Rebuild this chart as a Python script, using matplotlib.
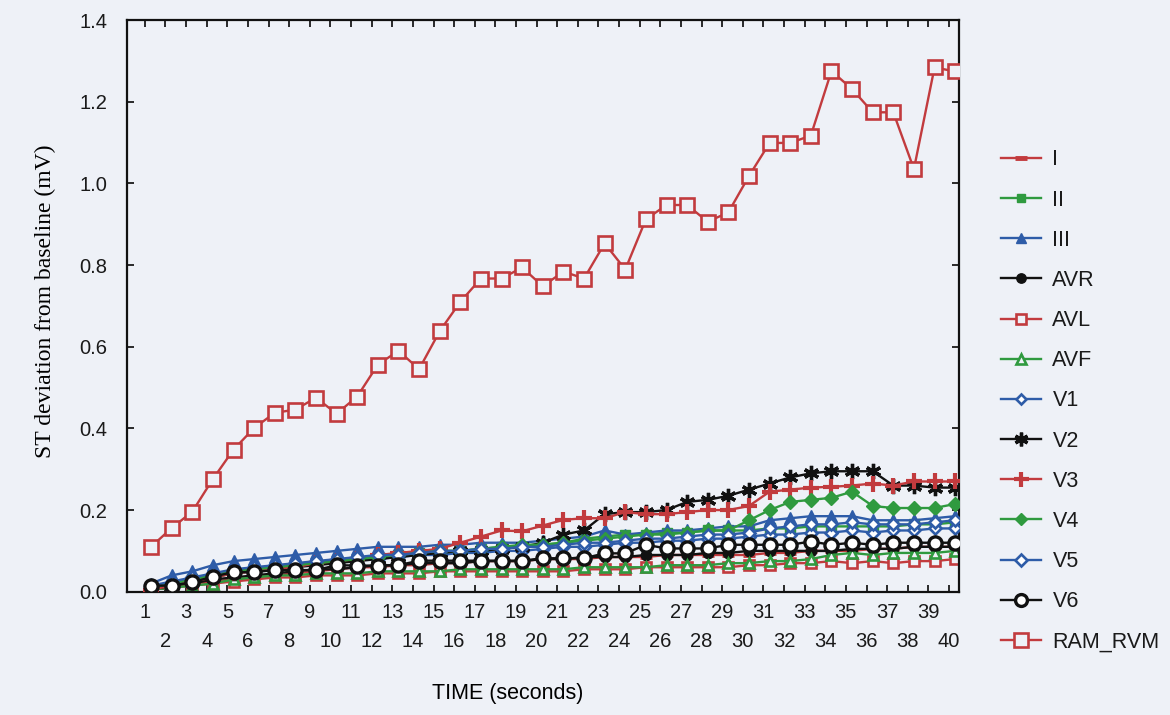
import numpy as np
import matplotlib
matplotlib.use("Agg")
import matplotlib.pyplot as plt

seconds = list(range(1, 41))

I = [0.010,0.015,0.020,0.025,0.030,0.035,0.040,0.045,0.050,0.055,0.060,0.060,0.065,0.065,0.070,0.070,0.075,0.075,0.075,0.080,
     0.080,0.080,0.085,0.085,0.085,0.090,0.090,0.090,0.090,0.090,0.095,0.095,0.100,0.100,0.100,0.105,0.105,0.110,0.110,0.110]
II = [0.010,0.020,0.030,0.040,0.050,0.055,0.060,0.065,0.070,0.075,0.080,0.085,0.090,0.095,0.100,0.100,0.105,0.110,0.110,0.115,
      0.120,0.130,0.135,0.140,0.140,0.145,0.145,0.150,0.150,0.150,0.155,0.155,0.160,0.160,0.160,0.160,0.160,0.165,0.165,0.170]
III = [0.020,0.040,0.050,0.065,0.075,0.080,0.085,0.090,0.095,0.100,0.105,0.110,0.110,0.110,0.115,0.115,0.120,0.120,0.120,0.125,
       0.130,0.135,0.150,0.140,0.145,0.150,0.150,0.155,0.160,0.160,0.175,0.180,0.185,0.185,0.185,0.175,0.175,0.175,0.180,0.185]
AVR = [0.005,0.010,0.020,0.030,0.035,0.040,0.045,0.050,0.055,0.055,0.060,0.065,0.065,0.070,0.070,0.070,0.075,0.075,0.075,0.080,
       0.080,0.085,0.085,0.085,0.090,0.090,0.090,0.095,0.095,0.100,0.100,0.100,0.100,0.100,0.105,0.105,0.105,0.110,0.110,0.110]
AVL = [0.005,0.010,0.015,0.020,0.025,0.030,0.035,0.035,0.040,0.040,0.040,0.045,0.045,0.045,0.050,0.050,0.050,0.050,0.050,0.050,
       0.050,0.055,0.055,0.055,0.060,0.060,0.060,0.060,0.060,0.065,0.065,0.070,0.070,0.075,0.070,0.075,0.070,0.075,0.075,0.080]
AVF = [0.005,0.010,0.015,0.020,0.030,0.035,0.040,0.040,0.045,0.045,0.045,0.050,0.050,0.050,0.050,0.055,0.055,0.055,0.055,0.055,
       0.055,0.060,0.060,0.060,0.060,0.065,0.065,0.065,0.070,0.070,0.075,0.075,0.080,0.090,0.095,0.090,0.095,0.095,0.095,0.100]
V1 = [0.010,0.020,0.030,0.040,0.050,0.055,0.060,0.065,0.070,0.075,0.080,0.080,0.085,0.090,0.090,0.095,0.095,0.100,0.100,0.105,
      0.110,0.110,0.115,0.120,0.120,0.125,0.125,0.130,0.130,0.135,0.140,0.140,0.145,0.145,0.150,0.145,0.150,0.150,0.155,0.155]
V2 = [0.005,0.015,0.025,0.035,0.045,0.050,0.055,0.060,0.065,0.070,0.075,0.080,0.085,0.090,0.095,0.100,0.100,0.105,0.110,0.120,
      0.140,0.150,0.190,0.195,0.195,0.200,0.220,0.225,0.235,0.250,0.265,0.280,0.290,0.295,0.295,0.295,0.260,0.260,0.255,0.255]
V3 = [0.005,0.015,0.025,0.035,0.045,0.050,0.055,0.060,0.070,0.075,0.080,0.090,0.095,0.100,0.105,0.120,0.135,0.150,0.148,0.162,
      0.176,0.180,0.180,0.195,0.190,0.190,0.195,0.200,0.200,0.210,0.245,0.250,0.255,0.257,0.260,0.265,0.260,0.270,0.270,0.270]
V4 = [0.010,0.020,0.030,0.040,0.050,0.055,0.060,0.065,0.070,0.075,0.080,0.085,0.090,0.095,0.100,0.100,0.105,0.110,0.115,0.115,
      0.120,0.125,0.130,0.135,0.140,0.140,0.145,0.150,0.150,0.175,0.200,0.220,0.225,0.230,0.245,0.210,0.205,0.205,0.205,0.215]
V5 = [0.015,0.025,0.035,0.045,0.055,0.060,0.065,0.070,0.075,0.080,0.085,0.090,0.090,0.095,0.100,0.100,0.105,0.105,0.110,0.110,
      0.115,0.120,0.120,0.125,0.130,0.130,0.135,0.140,0.140,0.145,0.155,0.160,0.165,0.165,0.170,0.165,0.165,0.165,0.170,0.175]
V6 = [0.015,0.015,0.023,0.037,0.048,0.048,0.053,0.053,0.053,0.065,0.064,0.064,0.065,0.076,0.076,0.076,0.076,0.076,0.076,0.082,
      0.082,0.082,0.094,0.094,0.115,0.106,0.106,0.106,0.115,0.115,0.115,0.115,0.123,0.115,0.120,0.115,0.120,0.120,0.120,0.120]
RAM_RVM = [0.110,0.156,0.196,0.276,0.348,0.401,0.438,0.446,0.475,0.436,0.478,0.556,0.590,0.545,0.638,0.710,0.767,0.767,0.794,0.748,
           0.784,0.767,0.853,0.789,0.912,0.947,0.947,0.906,0.929,1.018,1.099,1.099,1.117,1.275,1.231,1.174,1.174,1.035,1.284,1.274]

names = ["I", "II", "III", "AVR", "AVL", "AVF", "V1", "V2", "V3", "V4", "V5", "V6", "RAM_RVM"]
series = [I, II, III, AVR, AVL, AVF, V1, V2, V3, V4, V5, V6, RAM_RVM]

RED = "#c23b3e"
GREEN = "#2f9a3f"
BLUE = "#2e5ca8"
BLACK = "#111111"
BG = "#eef1f7"

styles = [
    dict(color=RED, marker="_", ms=9, mew=3.5),
    dict(color=GREEN, marker="s", ms=7, mfc=GREEN),
    dict(color=BLUE, marker="^", ms=8, mfc=BLUE),
    dict(color=BLACK, marker="o", ms=7.5, mfc=BLACK),
    dict(color=RED, marker="s", ms=7.5, mfc=BG, mew=1.9),
    dict(color=GREEN, marker="^", ms=7.5, mfc=BG, mew=1.9),
    dict(color=BLUE, marker="D", ms=6, mfc="white", mew=1.9),
    dict(color=BLACK, marker=(6, 2, 0), ms=11, mew=2.4),
    dict(color=RED, marker="+", ms=12, mew=3.0),
    dict(color=GREEN, marker="D", ms=7, mfc=GREEN),
    dict(color=BLUE, marker="D", ms=6.5, mfc="white", mew=1.9),
    dict(color=BLACK, marker="o", ms=9.5, mfc="white", mew=2.4),
    dict(color=RED, marker="s", ms=10.5, mfc=BG, mew=1.9),
]

plt.rcParams["font.family"] = ["Liberation Sans", "DejaVu Sans"]

fig = plt.figure(figsize=(11.7, 7.15), dpi=100, facecolor=BG)
ax = fig.add_axes([0.1083, 0.1724, 0.8199 - 0.1083, 0.972 - 0.1724])
ax.set_facecolor(BG)

x = np.array(seconds, dtype=float) + 0.3
for i, (name, ys, st) in enumerate(zip(names, series, styles)):
    ax.plot(x, ys, label=name, lw=1.7, zorder=2 + i * 0.1, **st)

ax.set_xlim(0.12, 40.5)
ax.set_ylim(0.0, 1.4)
yt = np.arange(0, 1.41, 0.2)
ax.set_yticks(yt)
ax.set_yticklabels([f"{v:.1f}" for v in yt])
ax.set_xticks(seconds)
ax.set_xticklabels([str(s) if s % 2 == 1 else "\n" + str(s) for s in seconds],
                   linespacing=1.68)

ax.tick_params(axis="both", which="major", direction="in", length=5, width=1.3,
               top=True, right=True, labelsize=14.5, colors="#1a1a1a")
ax.tick_params(axis="x", pad=8)
ax.tick_params(axis="y", pad=14)
for sp in ax.spines.values():
    sp.set_linewidth(1.6)
    sp.set_color("#111111")

ax.set_ylabel("ST deviation from baseline (mV)", family=["Liberation Serif", "DejaVu Serif"],
              fontsize=17)
ax.yaxis.set_label_coords(-0.085, 0.508)
ax.set_xlabel("TIME (seconds)", fontsize=15.5)
ax.xaxis.set_label_coords(0.458, -0.160)

leg = ax.legend(loc="upper left", bbox_to_anchor=(0.848, 0.803), bbox_transform=fig.transFigure,
                frameon=False, fontsize=15.5, handlelength=1.85, labelspacing=0.89,
                handletextpad=0.55, markerscale=0.9, borderaxespad=0)
for t in leg.get_texts():
    t.set_color("#1a1a1a")

fig.savefig("out.png", dpi=100, facecolor=BG)
